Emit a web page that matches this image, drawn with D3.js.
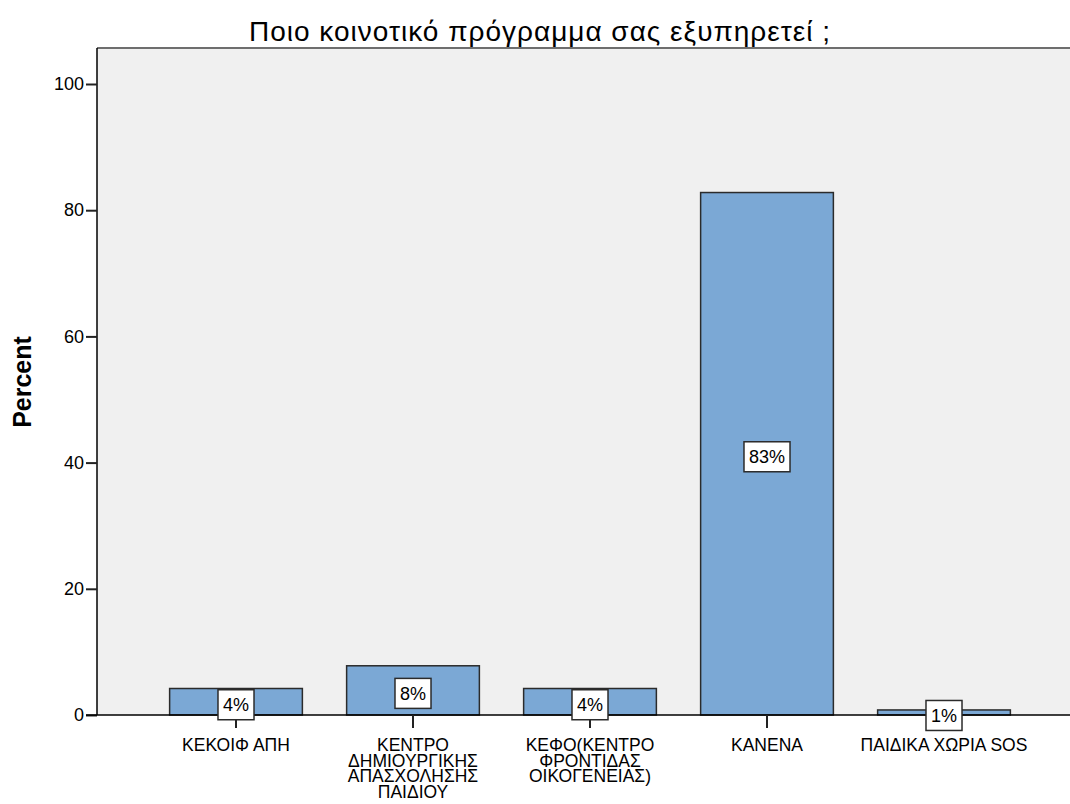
<!DOCTYPE html>
<html>
<head>
<meta charset="utf-8">
<script src="https://cdn.jsdelivr.net/npm/d3@7"></script>
<style>
  html, body { margin: 0; padding: 0; background: #ffffff; }
  svg { display: block; }
  text { font-family: "Liberation Sans", Arial, sans-serif; fill: #000; }
</style>
</head>
<body>
<svg id="chart" width="1070" height="804"></svg>
<script>
// ---- data ----
const title = "Ποιο κοινοτικό πρόγραμμα σας εξυπηρετεί ;";
const yLabel = "Percent";
const categories = [
  ["ΚΕΚΟΙΦ ΑΠΗ"],
  ["ΚΕΝΤΡΟ", "ΔΗΜΙΟΥΡΓΙΚΗΣ", "ΑΠΑΣΧΟΛΗΣΗΣ", "ΠΑΙΔΙΟΥ"],
  ["ΚΕΦΟ(ΚΕΝΤΡΟ", "ΦΡΟΝΤΙΔΑΣ", "ΟΙΚΟΓΕΝΕΙΑΣ)"],
  ["ΚΑΝΕΝΑ"],
  ["ΠΑΙΔΙΚΑ ΧΩΡΙΑ SOS"]
];
const categoryKeys = ["kekoif", "kentro", "kefo", "kanena", "sos"];
const percents = [4.2, 7.8, 4.2, 82.8, 0.8];
const barLabels = ["4%", "8%", "4%", "83%", "1%"];
const yTicks = [0, 20, 40, 60, 80, 100];

// ---- layout ----
const svg = d3.select("#chart");
const plotLeft = 97, plotRight = 1072, plotTop = 48, zeroY = 715;

const y = d3.scaleLinear().domain([0, 100]).range([zeroY, 84]);
const x = d3.scaleBand().domain(categoryKeys)
  .range([147.5, 1032.5]).paddingInner(0.25).paddingOuter(0.125);

// plot background
svg.append("rect")
  .attr("x", plotLeft).attr("y", plotTop)
  .attr("width", plotRight - plotLeft).attr("height", zeroY - plotTop)
  .attr("fill", "#f0f0f0");
// top frame
svg.append("line")
  .attr("x1", plotLeft).attr("x2", plotRight)
  .attr("y1", plotTop).attr("y2", plotTop)
  .attr("stroke", "#6e6e6e").attr("stroke-width", 2);

// title
svg.append("text")
  .attr("x", 540).attr("y", 41)
  .attr("text-anchor", "middle")
  .style("font-size", "28px")
  .style("letter-spacing", "1px")
  .text(title);

// y axis label
svg.append("text")
  .attr("transform", "translate(31,382) rotate(-90)")
  .attr("text-anchor", "middle")
  .style("font-size", "25px").style("font-weight", "bold")
  .text(yLabel);

// bars
svg.append("g").selectAll("rect")
  .data(percents)
  .join("rect")
  .attr("x", (d, i) => x(categoryKeys[i]))
  .attr("y", d => y(d))
  .attr("width", x.bandwidth())
  .attr("height", d => zeroY - y(d))
  .attr("fill", "#7ba8d5")
  .attr("stroke", "#2b2b2b")
  .attr("stroke-width", 1.5);

// y axis
const yAxis = d3.axisLeft(y).tickValues(yTicks).tickSize(11).tickPadding(2);
const gy = svg.append("g").attr("transform", `translate(${plotLeft},0)`).call(yAxis);
gy.select(".domain").attr("stroke", "#000").attr("stroke-width", 1.5)
  .attr("d", `M0,${plotTop}V${zeroY}`);
gy.selectAll(".tick line").attr("stroke", "#222").attr("stroke-width", 2);
gy.selectAll(".tick text").style("font-size", "18px").attr("fill", "#000")
  .style("font-family", "Liberation Sans, Arial, sans-serif");

// x axis baseline
svg.append("line")
  .attr("x1", plotLeft - 11).attr("x2", plotRight)
  .attr("y1", zeroY).attr("y2", zeroY)
  .attr("stroke", "#000").attr("stroke-width", 1.5);

// x ticks
const centers = categoryKeys.map(k => x(k) + x.bandwidth() / 2);
svg.append("g").selectAll("line")
  .data(centers)
  .join("line")
  .attr("x1", d => d).attr("x2", d => d)
  .attr("y1", zeroY).attr("y2", zeroY + 13)
  .attr("stroke", "#222").attr("stroke-width", 2);

// bar labels
const lg = svg.append("g").selectAll("g")
  .data(percents)
  .join("g")
  .attr("transform", (d, i) => `translate(${centers[i]},${(y(d) + zeroY) / 2 + 3})`);
lg.each(function (d, i) {
  const g = d3.select(this);
  const t = g.append("text")
    .attr("text-anchor", "middle")
    .attr("dy", "0.36em")
    .style("font-size", "18px")
    .text(barLabels[i]);
  const w = t.node().getComputedTextLength() + 10;
  g.insert("rect", "text")
    .attr("x", -w / 2).attr("y", -15)
    .attr("width", w).attr("height", 30)
    .attr("fill", "#ffffff")
    .attr("stroke", "#2b2b2b").attr("stroke-width", 1.5);
});

// x category labels
const xl = svg.append("g").selectAll("text")
  .data(categories)
  .join("text")
  .attr("x", (d, i) => centers[i])
  .attr("y", 751)
  .attr("text-anchor", "middle")
  .style("font-size", "17.5px");
xl.each(function (lines, i) {
  d3.select(this).selectAll("tspan")
    .data(lines)
    .join("tspan")
    .attr("x", centers[i])
    .attr("dy", (l, j) => j === 0 ? 0 : 15.5)
    .text(l => l);
});
</script>
</body>
</html>
